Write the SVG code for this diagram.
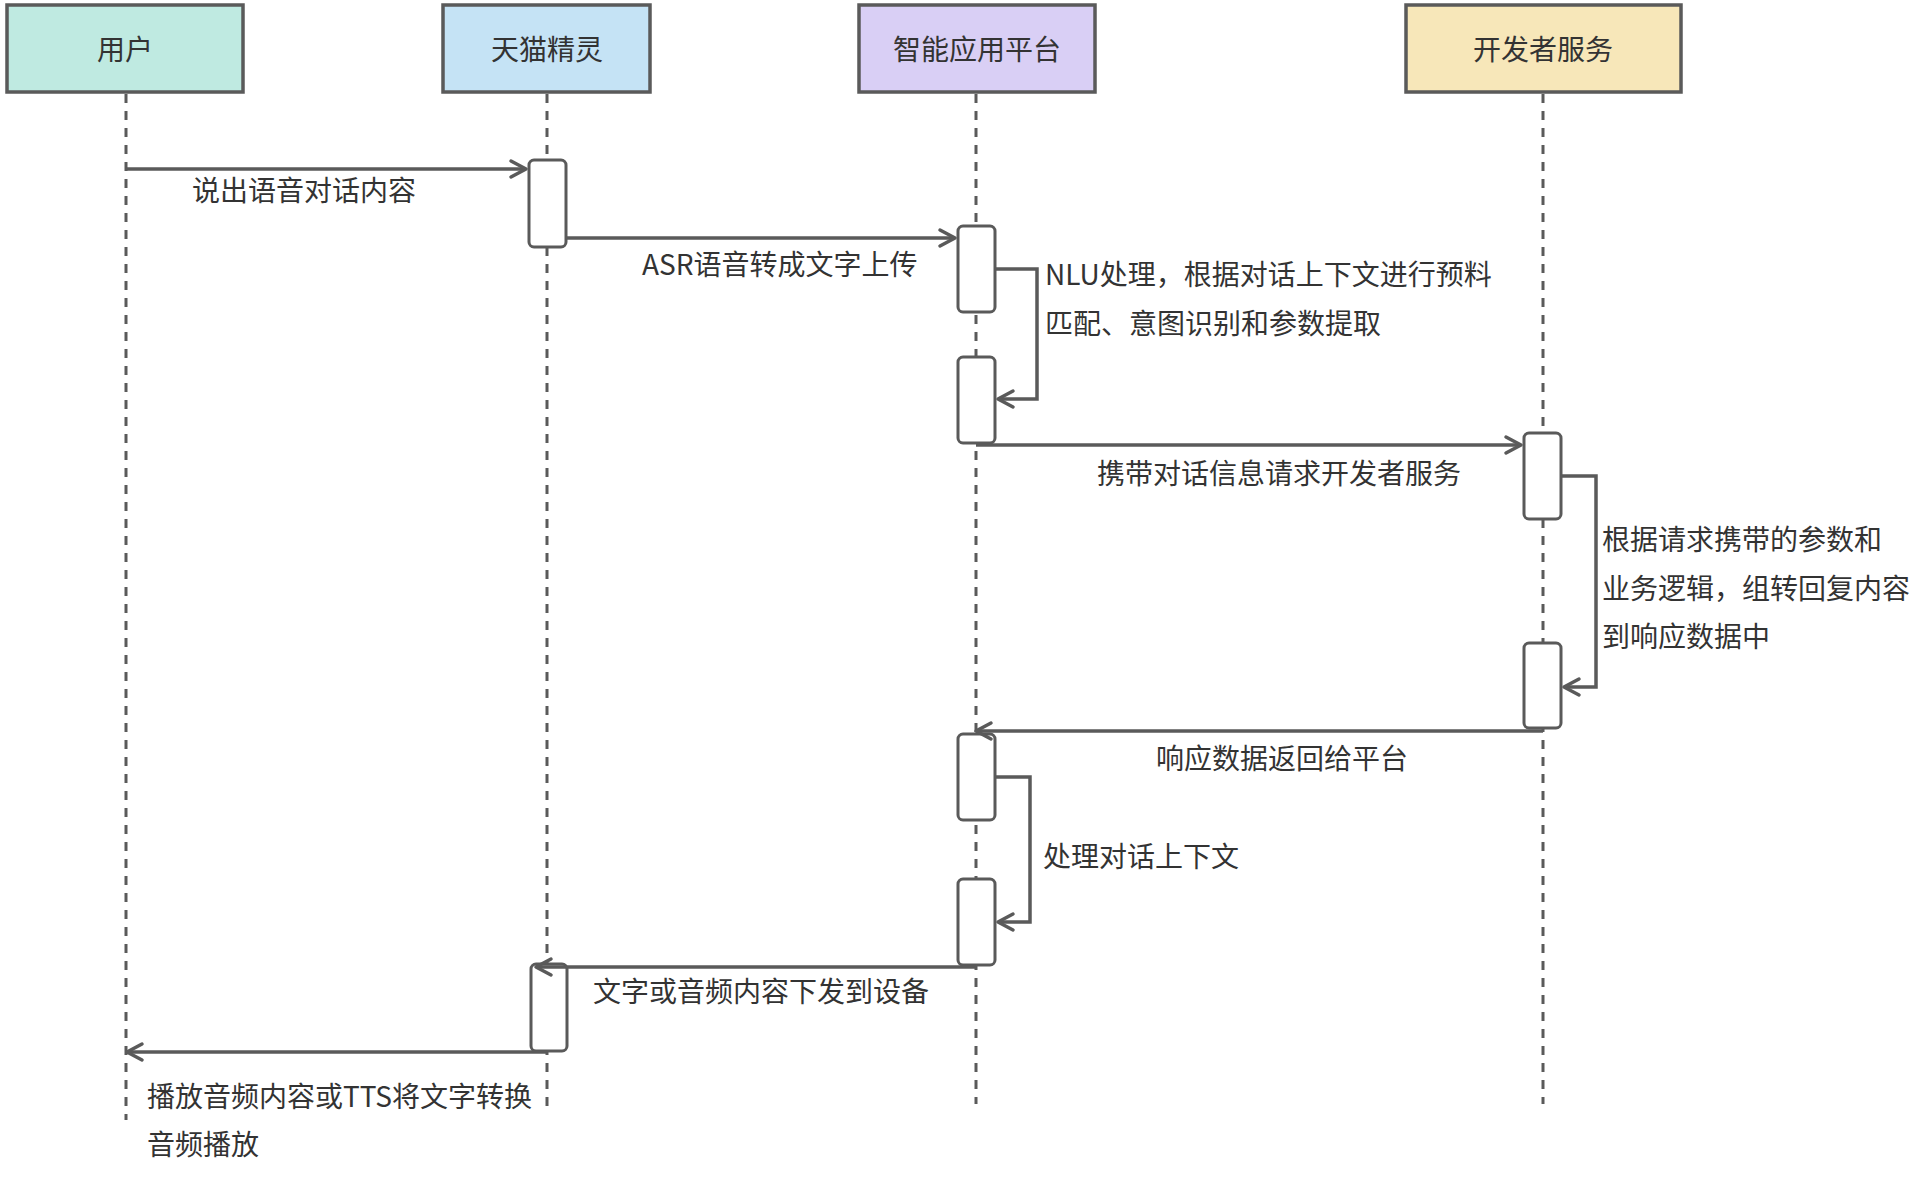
<svg xmlns="http://www.w3.org/2000/svg" width="1923" height="1179" viewBox="0 0 1923 1179">
<style>
.hdr{stroke:#5a5a5a;stroke-width:3.5}
.life{stroke:#5a5a5a;stroke-width:3;stroke-dasharray:9 8;fill:none}
.act{fill:#ffffff;stroke:#5a5a5a;stroke-width:3}
.msg{stroke:#5a5a5a;stroke-width:3.5;fill:none;marker-end:url(#arr)}
text{font-family:"Microsoft YaHei","Noto Sans CJK SC","Noto Sans",sans-serif;font-size:28px;fill:#333333;dominant-baseline:central}
.c{text-anchor:middle}
</style>
<defs>
<marker id="arr" markerUnits="userSpaceOnUse" markerWidth="24" markerHeight="24" viewBox="-20 -12 24 24" refX="0" refY="0" orient="auto">
<path d="M-15,-8 L0,0 L-15,8" fill="none" stroke="#5a5a5a" stroke-width="3.5" stroke-linecap="round" stroke-linejoin="round"/>
</marker>
</defs>
<rect width="1923" height="1179" fill="#ffffff"/>

<g id="lifelines">
<line class="life" x1="126" y1="94" x2="126" y2="1120"/>
<line class="life" x1="547" y1="94" x2="547" y2="1112"/>
<line class="life" x1="976" y1="94" x2="976" y2="1104"/>
<line class="life" x1="1543" y1="94" x2="1543" y2="1104"/>
</g>

<g id="node-user">
<rect class="hdr" x="7" y="5" width="236" height="87" fill="#bfeae1"/>
<text class="c" x="125" y="48">用户</text>
</g>
<g id="node-tmall">
<rect class="hdr" x="443" y="5" width="207" height="87" fill="#c5e3f5"/>
<text class="c" x="547" y="48">天猫精灵</text>
</g>
<g id="node-platform">
<rect class="hdr" x="859" y="5" width="236" height="87" fill="#d9cff5"/>
<text class="c" x="977" y="48">智能应用平台</text>
</g>
<g id="node-dev">
<rect class="hdr" x="1406" y="5" width="275" height="87" fill="#f7e7b9"/>
<text class="c" x="1543" y="48">开发者服务</text>
</g>

<g id="activations">
<rect class="act" x="529" y="160" width="37" height="87" rx="5"/>
<rect class="act" x="958" y="226" width="37" height="86" rx="5"/>
<rect class="act" x="958" y="357" width="37" height="86" rx="5"/>
<rect class="act" x="1524" y="433" width="37" height="86" rx="5"/>
<rect class="act" x="1524" y="643" width="37" height="85" rx="5"/>
<rect class="act" x="958" y="734" width="37" height="86" rx="5"/>
<rect class="act" x="958" y="879" width="37" height="86" rx="5"/>
<rect class="act" x="531" y="964" width="36" height="87" rx="5"/>
</g>

<g id="connectors">
<path class="msg" d="M126,169 H526"/>
<path class="msg" d="M566,238 H955"/>
<path class="msg" d="M995,269 H1037 V399 H998"/>
<path class="msg" d="M976,445 H1521"/>
<path class="msg" d="M1561,476 H1596 V687 H1564"/>
<path class="msg" d="M1543,731 H976"/>
<path class="msg" d="M995,777 H1030 V922 H998"/>
<path class="msg" d="M976,967 H536"/>
<path class="msg" d="M547,1052 H127"/>
</g>

<g id="labels">
<text x="192" y="189">说出语音对话内容</text>
<text x="642" y="263">ASR语音转成文字上传</text>
<text x="1045" y="273">NLU处理，根据对话上下文进行预料</text>
<text x="1045" y="322">匹配、意图识别和参数提取</text>
<text x="1097" y="472">携带对话信息请求开发者服务</text>
<text x="1602" y="538">根据请求携带的参数和</text>
<text x="1602" y="587">业务逻辑，组转回复内容</text>
<text x="1602" y="635">到响应数据中</text>
<text x="1156" y="757">响应数据返回给平台</text>
<text x="1043" y="855">处理对话上下文</text>
<text x="593" y="990">文字或音频内容下发到设备</text>
<text x="147" y="1095">播放音频内容或TTS将文字转换</text>
<text x="147" y="1143">音频播放</text>
</g>
</svg>
